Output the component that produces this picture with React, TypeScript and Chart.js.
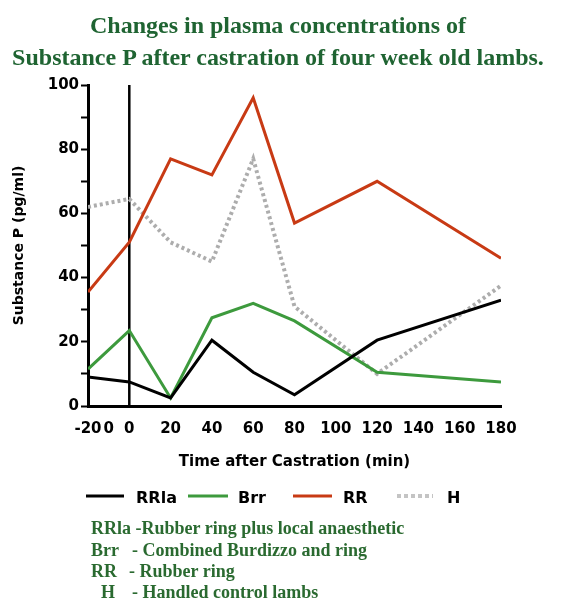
import React, { useEffect, useRef } from "react";
import { Chart, registerables } from "chart.js";

Chart.register(...registerables);

const times = [-20, 0, 20, 40, 60, 80, 120, 180];
const rrla = [9, 7.5, 2.5, 20.5, 10.5, 3.5, 20.5, 33];
const brr = [11.5, 23.5, 2.5, 27.5, 32, 26.5, 10.5, 7.5];
const rr = [35.5, 51, 77, 72, 96, 57, 70, 46];
const handled = [62, 64.5, 51, 45, 77, 31, 10, 37.5];

const xTickValues = [-20, -10, 0, 20, 40, 60, 80, 100, 120, 140, 160, 180];
const xTickLabels = ["-20", "0", "0", "20", "40", "60", "80", "100", "120", "140", "160", "180"];

const seriesNames = ["RRla", "Brr", "RR", "H"];
const seriesColors = ["#000000", "#3d9a3d", "#c83a14", "#adadad"];

const noteKeys = ["RRla", "Brr", "RR", "H"];
const noteTexts = [
  "-Rubber ring plus local anaesthetic",
  "- Combined Burdizzo and ring",
  "- Rubber ring",
  "- Handled control lambs",
];

const axisFont = { family: "'DejaVu Sans', sans-serif", weight: "bold" as const, size: 15 };

const pts = (vals: number[]) => vals.map((y, i) => ({ x: times[i], y }));

const zeroLine = {
  id: "zeroLine",
  beforeDatasetsDraw(chart: any) {
    const { ctx, chartArea, scales } = chart;
    const x = scales.x.getPixelForValue(0);
    ctx.save();
    ctx.strokeStyle = "#000";
    ctx.lineWidth = 2.5;
    ctx.beginPath();
    ctx.moveTo(x, chartArea.top);
    ctx.lineTo(x, chartArea.bottom);
    ctx.stroke();
    ctx.restore();
  },
};

export default function App() {
  const ref = useRef<HTMLCanvasElement | null>(null);

  useEffect(() => {
    if (!ref.current) return;
    const data = [rrla, brr, rr, handled];
    const chart = new Chart(ref.current, {
      type: "line",
      data: {
        datasets: data.map((d, i) => ({
          label: seriesNames[i],
          data: pts(d),
          borderColor: seriesColors[i],
          borderWidth: i === 3 ? 4 : 3,
          borderDash: i === 3 ? [3, 3] : [],
          pointRadius: 0,
          tension: 0,
          fill: false,
        })),
      },
      options: {
        animation: false,
        responsive: false,
        devicePixelRatio: 1,
        layout: { padding: { top: 85, right: 65, bottom: 141, left: 0 } },
        plugins: { legend: { display: false }, tooltip: { enabled: false }, title: { display: false } },
        scales: {
          x: {
            type: "linear",
            min: -20,
            max: 180,
            afterBuildTicks: (scale: any) => {
              scale.ticks = xTickValues.map((v) => ({ value: v }));
            },
            afterFit: (scale: any) => {
              scale.height = 69;
            },
            grid: { display: false },
            border: { display: true, color: "#000", width: 3 },
            ticks: {
              autoSkip: false,
              maxRotation: 0,
              padding: 6,
              color: "#000",
              font: axisFont,
              callback: (_v: any, idx: number) => xTickLabels[idx],
            },
            title: {
              display: true,
              text: "Time after Castration (min)",
              color: "#000",
              font: axisFont,
              padding: { top: 0, bottom: 4 },
            },
          },
          y: {
            type: "linear",
            min: 0,
            max: 100,
            afterFit: (scale: any) => {
              scale.width = 88;
            },
            grid: {
              display: true,
              drawOnChartArea: false,
              drawTicks: true,
              tickLength: 7,
              tickColor: "#000",
              tickWidth: 2,
            },
            border: { display: true, color: "#000", width: 3 },
            ticks: {
              stepSize: 10,
              padding: 2,
              color: "#000",
              font: axisFont,
              callback: (v: any) => (Number(v) % 20 === 0 ? String(v) : ""),
            },
            title: {
              display: true,
              text: "Substance P (pg/ml)",
              color: "#000",
              font: { family: "'DejaVu Sans', sans-serif", weight: "bold", size: 14 },
              padding: { top: 11, bottom: 0 },
            },
          },
        },
      },
      plugins: [zeroLine],
    } as any);
    return () => chart.destroy();
  }, []);

  const green = "#1f6432";
  const noteGreen = "#2a6a30";
  const dashX = [0, 132, 129, 132];
  const keyX = [91, 91, 91, 101];

  return (
    <div style={{ position: "fixed", left: 0, top: 0, width: 566, height: 616, background: "#fff" }}>
      <canvas ref={ref} width={566} height={616} style={{ position: "absolute", left: 0, top: 0 }} />
      <div
        style={{
          position: "absolute",
          left: 0,
          top: 9,
          width: 556,
          textAlign: "center",
          fontFamily: "'Liberation Serif', 'Times New Roman', serif",
          fontWeight: "bold",
          fontSize: 24,
          lineHeight: "32px",
          color: green,
        }}
      >
        <div>Changes in plasma concentrations of</div>
        <div>Substance P after castration of four week old lambs.</div>
      </div>
      {seriesNames.map((name, i) => {
        const lineX = [86, 188, 293, 397][i];
        const lineW = [38, 40, 39, 36][i];
        const textX = [136, 238, 343, 447][i];
        return (
          <React.Fragment key={name}>
            <svg style={{ position: "absolute", left: lineX, top: 492 }} width={lineW} height={8}>
              <line
                x1={0}
                y1={4}
                x2={lineW}
                y2={4}
                stroke={i === 3 ? "#c4c4c4" : seriesColors[i]}
                strokeWidth={i === 3 ? 4 : 3}
                strokeDasharray={i === 3 ? "4 3" : undefined}
              />
            </svg>
            <div
              style={{
                position: "absolute",
                left: textX,
                top: 487,
                fontFamily: "'DejaVu Sans', sans-serif",
                fontWeight: "bold",
                fontSize: 16,
                lineHeight: "22px",
                color: "#000",
              }}
            >
              {name}
            </div>
          </React.Fragment>
        );
      })}
      {noteKeys.map((k, i) => {
        const top = [517, 539, 560, 581][i];
        const common: React.CSSProperties = {
          position: "absolute",
          top,
          fontFamily: "'Liberation Serif', 'Times New Roman', serif",
          fontWeight: "bold",
          fontSize: 18,
          lineHeight: "22px",
          color: noteGreen,
          whiteSpace: "pre",
        };
        if (i === 0) {
          return (
            <div key={k} style={{ ...common, left: keyX[i] }}>
              {k} {noteTexts[i]}
            </div>
          );
        }
        return (
          <React.Fragment key={k}>
            <div style={{ ...common, left: keyX[i] }}>{k}</div>
            <div style={{ ...common, left: dashX[i] }}>{noteTexts[i]}</div>
          </React.Fragment>
        );
      })}
    </div>
  );
}
